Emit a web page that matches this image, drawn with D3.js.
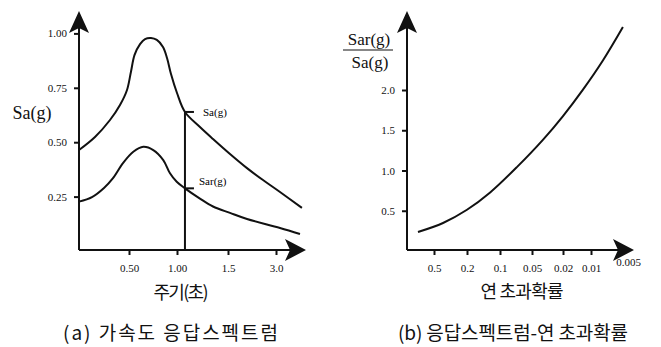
<!DOCTYPE html>
<html>
<head>
<meta charset="utf-8">
<script src="https://cdn.jsdelivr.net/npm/d3@7"></script>
<style>
  body { margin: 0; background: #fff; }
  .tick text { font-family: "Liberation Serif", "DejaVu Serif", serif; font-size: 11px; fill: #111; }
  .tick line { stroke: #111; stroke-width: 2; }
</style>
</head>
<body>
<div id="chart"></div>
<script>
// (a) spectrum: period (s) vs Sa(g)
const saPeriods = [0, 0.16, 0.31, 0.41, 0.48, 0.52, 0.558, 0.615, 0.667, 0.729, 0.79, 0.854, 0.896, 0.9375, 1.0, 1.078, 1.225, 1.353, 1.5625, 2.094, 2.594, 3.125, 3.81];
const saValues  = [0.464, 0.524, 0.602, 0.671, 0.740, 0.823, 0.901, 0.951, 0.974, 0.979, 0.970, 0.9375, 0.887, 0.813, 0.726, 0.639, 0.570, 0.515, 0.446, 0.381, 0.326, 0.271, 0.198];
const sarPeriods = [0, 0.13, 0.25, 0.34, 0.44, 0.545, 0.649, 0.753, 0.857, 0.927, 0.997, 1.078, 1.225, 1.353, 1.5625, 2.094, 3.125, 3.75];
const sarValues  = [0.227, 0.248, 0.290, 0.335, 0.404, 0.456, 0.479, 0.464, 0.418, 0.357, 0.318, 0.288, 0.241, 0.2045, 0.175, 0.147, 0.106, 0.078];
const periodTicks = [0.5, 1.0, 1.5, 3.0];
const periodTickLabels = ["0.50", "1.00", "1.5", "3.0"];
const saTicks = [0.25, 0.5, 0.75, 1.0];
const markPeriod = 1.078, markSa = 0.639, markSar = 0.288;

// (b) ratio vs annual exceedance probability
const probTicks = [0.5, 0.2, 0.1, 0.05, 0.02, 0.01, 0.005];
const probTickLabels = ["0.5", "0.2", "0.1", "0.05", "0.02", "0.01", "0.005"];
const probValues  = [0.78, 0.389, 0.2, 0.123, 0.069, 0.036, 0.02, 0.0122, 0.00798, 0.0055];
const ratioValues = [0.236, 0.348, 0.512, 0.727, 1.045, 1.384, 1.677, 2.005, 2.370, 2.783];
const ratioTicks = [0.5, 1.0, 1.5, 2.0];

const W = 661, H = 347;
const svg = d3.select("#chart").append("svg")
  .attr("width", W).attr("height", H)
  .style("background", "#fff");

const serif = '"Liberation Serif", "DejaVu Serif", serif';
const kor = '"Noto Sans CJK KR", "Noto Sans CJK SC", sans-serif';

// ---------- left chart ----------
const xA = d3.scaleLinear().domain([0, 0.5, 1.0, 1.5, 3.0, 4.0]).range([79, 129, 177, 228, 276, 308]);
const yA = d3.scaleLinear().domain([0, 1]).range([251, 33.4]);

function arrowUp(x, y) {
  return `M${x},${y} L${x + 10},${y + 22} L${x},${y + 17} L${x - 10},${y + 22} Z`;
}
function arrowRight(x, y) {
  return `M${x},${y} L${x - 21},${y - 11} L${x - 16},${y} L${x - 21},${y + 11} Z`;
}

function label(g, x, y, txt, font, size, len) {
  const t = g.append("text").attr("x", x).attr("y", y).attr("text-anchor", "middle")
    .style("font-family", font).style("font-size", size + "px").style("fill", "#111").text(txt);
  if (len) t.attr("textLength", len).attr("lengthAdjust", "spacing");
  return t;
}

const gA = svg.append("g");
gA.append("line").attr("x1", 79).attr("x2", 79).attr("y1", 250).attr("y2", 25)
  .attr("stroke", "#111").attr("stroke-width", 2);
gA.append("line").attr("x1", 79).attr("x2", 292).attr("y1", 250).attr("y2", 250)
  .attr("stroke", "#111").attr("stroke-width", 2);
gA.append("path").attr("d", arrowUp(79, 11)).attr("fill", "#111");
gA.append("path").attr("d", arrowRight(306, 250)).attr("fill", "#111");

gA.append("g").attr("transform", "translate(79,0)")
  .call(d3.axisLeft(yA).tickValues(saTicks).tickSize(5).tickPadding(7).tickFormat(d3.format(".2f")))
  .call(g => g.select(".domain").remove());
gA.append("g").attr("transform", "translate(0,250)")
  .call(d3.axisBottom(xA).tickValues(periodTicks).tickSize(5).tickPadding(9)
    .tickFormat((d, i) => periodTickLabels[i]))
  .call(g => g.select(".domain").remove());

const lineA = (xs, ys) => d3.line()
  .x((d, i) => xA(xs[i])).y(d => yA(d))
  .curve(d3.curveCatmullRom.alpha(0.5))(ys);

gA.append("path").attr("d", lineA(saPeriods, saValues))
  .attr("fill", "none").attr("stroke", "#111").attr("stroke-width", 2);
gA.append("path").attr("d", lineA(sarPeriods, sarValues))
  .attr("fill", "none").attr("stroke", "#111").attr("stroke-width", 2);

// marker at the chosen period
gA.append("line").attr("x1", xA(markPeriod)).attr("x2", xA(markPeriod))
  .attr("y1", 250).attr("y2", yA(markSa))
  .attr("stroke", "#111").attr("stroke-width", 2);
[markSa, markSar].forEach(v => {
  gA.append("line").attr("x1", xA(markPeriod)).attr("x2", xA(markPeriod) + 9)
    .attr("y1", yA(v)).attr("y2", yA(v))
    .attr("stroke", "#111").attr("stroke-width", 2);
});
gA.append("text").attr("x", 203).attr("y", yA(markSa) + 4)
  .style("font-family", serif).style("font-size", "11px").text("Sa(g)");
gA.append("text").attr("x", 199).attr("y", yA(markSar) - 3)
  .style("font-family", serif).style("font-size", "11px").text("Sar(g)");

label(gA, 32, 119, "Sa(g)", serif, 18);
label(gA, 181, 299, "주기(초)", kor, 18, 55);
label(gA, 170.5, 340, "(a) 가속도 응답스펙트럼", kor, 19, 215);

// ---------- right chart ----------
const xB = d3.scaleLog().domain(probTicks).range([434, 467, 500, 532, 563, 591, 628]);
const yB = d3.scaleLinear().domain([0, 2]).range([251, 90]);

const gB = svg.append("g");
gB.append("line").attr("x1", 407).attr("x2", 407).attr("y1", 250).attr("y2", 25)
  .attr("stroke", "#111").attr("stroke-width", 2);
gB.append("line").attr("x1", 407).attr("x2", 620).attr("y1", 250).attr("y2", 250)
  .attr("stroke", "#111").attr("stroke-width", 2);
gB.append("path").attr("d", arrowUp(407, 11)).attr("fill", "#111");
gB.append("path").attr("d", arrowRight(634, 250)).attr("fill", "#111");

gB.append("g").attr("transform", "translate(407,0)")
  .call(d3.axisLeft(yB).tickValues(ratioTicks).tickSize(5).tickPadding(7).tickFormat(d3.format(".1f")))
  .call(g => g.select(".domain").remove());
gB.append("g").attr("transform", "translate(0,250)")
  .call(d3.axisBottom(xB).tickValues(probTicks).tickSize(5).tickPadding(9)
    .tickFormat((d, i) => probTickLabels[i]))
  .call(g => g.select(".domain").remove())
  .call(g => g.selectAll(".tick").filter(d => d === 0.005)
    .call(t => t.select("line").remove())
    .call(t => t.select("text").attr("y", 8)));

gB.append("path")
  .attr("d", d3.line().x((d, i) => xB(probValues[i])).y(d => yB(d))
    .curve(d3.curveCatmullRom.alpha(0.5))(ratioValues))
  .attr("fill", "none").attr("stroke", "#111").attr("stroke-width", 2);

label(gB, 369, 45, "Sar(g)", serif, 17);
gB.append("line").attr("x1", 343).attr("x2", 393).attr("y1", 50).attr("y2", 50)
  .attr("stroke", "#111").attr("stroke-width", 1.2);
label(gB, 370, 68, "Sa(g)", serif, 17);
label(gB, 522, 298, "연 초과확률", kor, 18, 83);
label(gB, 513, 340, "(b) 응답스펙트럼-연 초과확률", kor, 19, 230);
</script>
</body>
</html>
